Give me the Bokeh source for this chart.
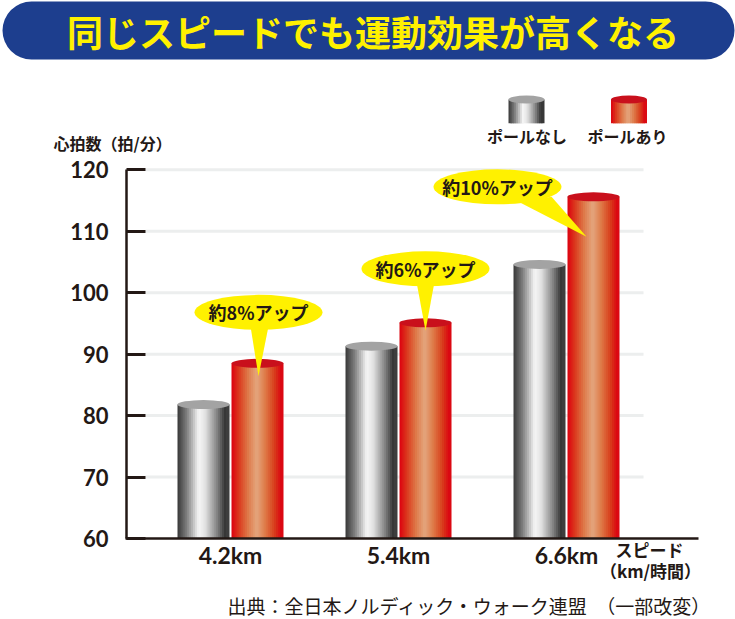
import numpy as np
from bokeh.plotting import figure
from bokeh.models import Range1d, FixedTicker, Label, ColumnDataSource
from bokeh.core.properties import value
from bokeh.embed import file_html
from bokeh.resources import INLINE

# ---------------- data ----------------
title_text = "同じスピードでも運動効果が高くなる"
categories = ["4.2km", "5.4km", "6.6km"]
series_names = ["ポールなし", "ポールあり"]
pole_off = [81.8, 91.3, 104.6]
pole_on = [88.5, 95.1, 115.6]
callout_labels = ["約8%アップ", "約6%アップ", "約10%アップ"]
y_ticks = [60, 70, 80, 90, 100, 110, 120]
y_title = "心拍数（拍/分）"
x_title = ["スピード", "（km/時間）"]
source_note = "出典：全日本ノルディック・ウォーク連盟　（一部改変）"

# ---------------- style / layout ----------------
JP = "Noto Sans CJK JP"
NUM = "Lato"
DARK = "#231815"
NAVY = "#1d3e8e"
YEL = "#fff100"
GRID = "#eceeee"

W = 735
H = 619
PX_X = 168.0      # pixels per category step
PX_Y = 6.145      # pixels per bpm
X_START = -230 / PX_X
X_END = X_START + W / PX_X
Y_START = 60 - (H - 538) / PX_Y
Y_END = Y_START + H / PX_Y


# helpers: page pixel -> data (used only for decorations/annotations)
def dx(px):
    return X_START + px / PX_X


def dy(py):
    return 60 + (538 - py) / PX_Y


BAR_W = 52 / PX_X
OFF = 27 / PX_X
N = 26

GRAY_STOPS = [(0.0, "#383838"), (0.18, "#7e7e7e"), (0.42, "#f6f6f6"), (0.55, "#e2e2e2"),
              (0.78, "#858585"), (0.96, "#2e2e2e"), (1.0, "#4a4a4a")]
RED_STOPS = [(0.0, "#dc000f"), (0.15, "#db3a1e"), (0.33, "#de7a4a"), (0.5, "#e4a67e"),
             (0.67, "#de7a48"), (0.85, "#d83e1c"), (1.0, "#dc0010")]
CAP = ["#a3a3a3", "#c9101c"]


def hex2rgb(h):
    return np.array([int(h[i:i + 2], 16) for i in (1, 3, 5)], dtype=float)


def grad(stops, t):
    for (p0, c0), (p1, c1) in zip(stops[:-1], stops[1:]):
        if p0 <= t <= p1:
            f = (t - p0) / (p1 - p0)
            c = hex2rgb(c0) * (1 - f) + hex2rgb(c1) * f
            return "#%02x%02x%02x" % tuple(int(round(v)) for v in c)
    return stops[-1][1]


def strips(cx, width, n, stops):
    sw = width / n * 1.8
    xs, cs = [], []
    for k in range(n):
        t = k / (n - 1)
        xs.append(cx - width / 2 + sw / 2 + t * (width - sw))
        cs.append(grad(stops, (k + 0.5) / n))
    return xs, cs, sw


p = figure(width=W, height=H, x_range=Range1d(X_START, X_END), y_range=Range1d(Y_START, Y_END),
           toolbar_location=None, output_backend="svg", title=None,
           min_border_left=0, min_border_right=0, min_border_top=0, min_border_bottom=0)
p.outline_line_color = None
p.xgrid.visible = False
p.ygrid.visible = False

# title band
p.quad(left=[dx(2)], right=[dx(734)], top=[dy(1)], bottom=[dy(59)], border_radius=29,
       fill_color=NAVY, line_color=None)
p.text(x=[dx(372.5)], y=[dy(30)], text=[title_text], text_align="center", text_baseline="middle",
       text_font=value(JP), text_font_style="bold", text_font_size="36px", text_color=YEL)

# grid lines
gy = [t for t in y_ticks if t > 60]
p.segment(x0=[dx(145)] * len(gy), x1=[dx(643)] * len(gy), y0=gy, y1=gy,
          line_color=GRID, line_width=3)

# cylinders
bx, btop, bcol = [], [], []
cap_x, cap_y, cap_c = [], [], []
sw = BAR_W / N
for s, (vals, stops) in enumerate([(pole_off, GRAY_STOPS), (pole_on, RED_STOPS)]):
    for i, v in enumerate(vals):
        cx = i + (OFF if s == 1 else -OFF)
        xs, cs, sw = strips(cx, BAR_W, N, stops)
        bx += xs
        bcol += cs
        btop += [v] * N
        cap_x.append(cx)
        cap_y.append(v)
        cap_c.append(CAP[s])
src = ColumnDataSource(dict(x=bx, top=btop, color=bcol))
p.vbar(x="x", top="top", bottom=60, width=sw, fill_color="color", line_color=None, source=src)
p.ellipse(x=cap_x, y=cap_y, width=BAR_W, height=9 / PX_Y, fill_color=cap_c, line_color=None)

# callouts (offsets in px relative to the red bar top centre: right, up)
CALLOUT = [
    dict(e=(1, 51), b1=(-7, 37), b2=(11, 37), tip=(1, -13)),
    dict(e=(0, 54), b1=(-9, 41), b2=(9, 41), tip=(0, -8)),
    dict(e=(-96, 10), b1=(-75, -5), b2=(-42, 0), tip=(-7, -40)),
]
ex, ey, txs, tys = [], [], [], []
for i, c in enumerate(CALLOUT):
    cx = i + OFF
    cy = pole_on[i]
    pts = [c["b1"], c["tip"], c["b2"]]
    txs.append([cx + a / PX_X for a, b in pts])
    tys.append([cy + b / PX_Y for a, b in pts])
    ex.append(cx + c["e"][0] / PX_X)
    ey.append(cy + c["e"][1] / PX_Y)
p.patches(xs=txs, ys=tys, fill_color=YEL, line_color=None)
p.ellipse(x=ex, y=ey, width=128 / PX_X, height=35 / PX_Y, fill_color=YEL, line_color=None)
p.text(x=ex, y=ey, text=callout_labels, text_align="center", text_baseline="middle",
       text_font=value(JP), text_font_style="bold", text_font_size="18px", text_color=DARK)

# legend (custom cylinders)
lg_x = [dx(526), dx(628.5)]
LG_W = 36 / PX_X
LN = 18
lx, lc = [], []
lsw = LG_W / LN
for s, stops in enumerate([GRAY_STOPS, RED_STOPS]):
    xs, cs, lsw = strips(lg_x[s], LG_W, LN, stops)
    lx += xs
    lc += cs
p.vbar(x=lx, top=[dy(99)] * len(lx), bottom=dy(122.7), width=lsw, fill_color=lc, line_color=None)
p.ellipse(x=lg_x, y=[dy(99)] * 2, width=LG_W, height=8 / PX_Y, fill_color=CAP, line_color=None)
p.text(x=[dx(526.5), dx(627)], y=[dy(135)] * 2, text=series_names, text_align="center",
       text_baseline="middle", text_font=value(JP), text_font_style="bold",
       text_font_size="16px", text_color=DARK)

# axes (drawn at fixed locations inside the full-canvas frame)
yax = p.yaxis[0]
yax.fixed_location = dx(126)
yax.ticker = FixedTicker(ticks=y_ticks)
yax.bounds = (60, 120)
yax.axis_line_width = 2.5
yax.axis_line_color = DARK
yax.major_tick_in = 19
yax.major_tick_out = 0
yax.major_tick_line_width = 3
yax.major_tick_line_color = DARK
yax.minor_tick_line_color = None
yax.major_label_text_font = NUM
yax.major_label_text_font_style = "bold"
yax.major_label_text_font_size = "22px"
yax.major_label_text_color = DARK
yax.major_label_standoff = 18

xax = p.xaxis[0]
xax.fixed_location = 60
xax.ticker = FixedTicker(ticks=list(range(len(categories))))
xax.major_label_overrides = {i: c for i, c in enumerate(categories)}
xax.bounds = (dx(125), dx(698))
xax.axis_line_width = 2.5
xax.axis_line_color = DARK
xax.major_tick_in = 0
xax.major_tick_out = 0
xax.minor_tick_line_color = None
xax.major_label_text_font = NUM
xax.major_label_text_font_style = "bold"
xax.major_label_text_font_size = "23px"
xax.major_label_text_color = DARK
xax.major_label_standoff = 2

# text annotations
p.add_layout(Label(x=dx(53), y=dy(142), text=y_title, text_align="left", text_baseline="middle",
                   text_font=JP, text_font_style="bold", text_font_size="16px", text_color=DARK))
p.add_layout(Label(x=dx(649), y=dy(549), text=x_title[0], text_align="center", text_baseline="middle",
                   text_font=JP, text_font_style="bold", text_font_size="17px", text_color=DARK))
p.add_layout(Label(x=dx(650), y=dy(569.5), text=x_title[1], text_align="center", text_baseline="middle",
                   text_font=JP, text_font_style="bold", text_font_size="17px", text_color=DARK))
p.add_layout(Label(x=dx(227), y=dy(605), text=source_note, text_align="left", text_baseline="middle",
                   text_font=JP, text_font_size="19px", text_color=DARK))

open("out.html", "w").write(file_html(p, INLINE))
